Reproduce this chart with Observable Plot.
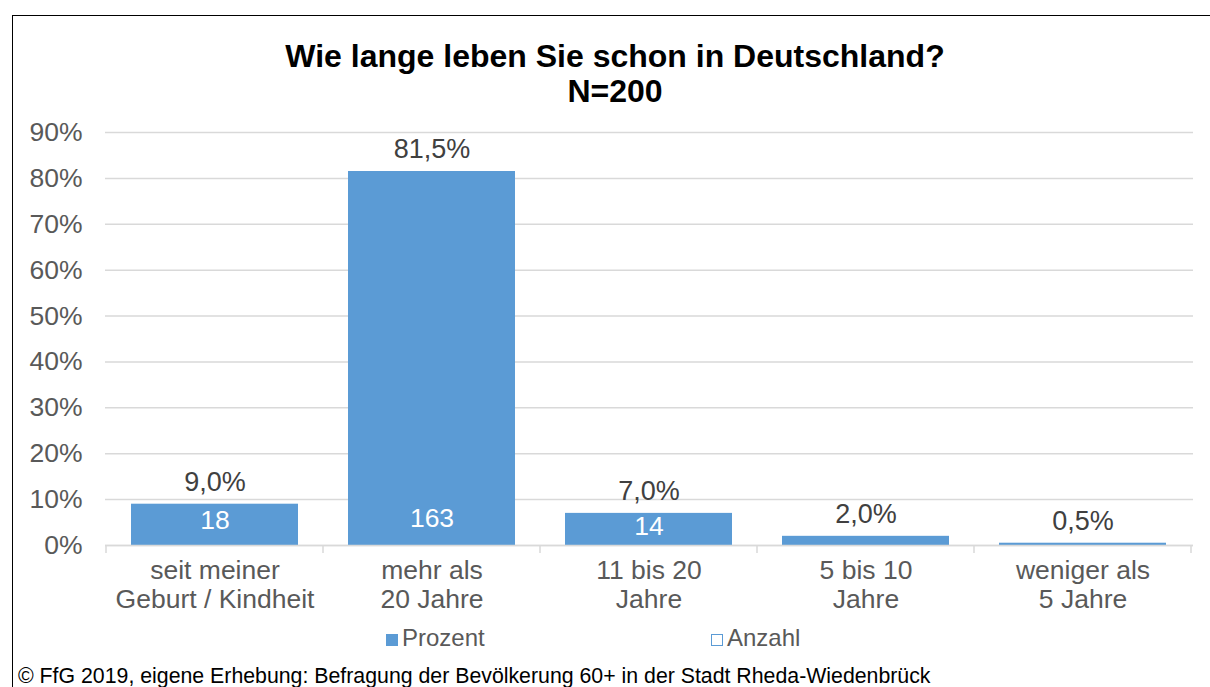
<!DOCTYPE html>
<html>
<head>
<meta charset="utf-8">
<script src="https://cdn.jsdelivr.net/npm/d3@7"></script>
<script src="https://cdn.jsdelivr.net/npm/@observablehq/plot@0.6"></script>
<style>
  html, body { margin: 0; padding: 0; background: #fff; }
  #wrap { position: relative; width: 1210px; height: 687px; overflow: hidden; font-family: "Liberation Sans", Arial, sans-serif; }
  #frame { position: absolute; left: 12px; top: 15px; width: 1300px; height: 800px; border-left: 1.5px solid #000; border-top: 1.5px solid #000; }
  #title { position: absolute; left: 0; width: 1230px; top: 39px; text-align: center; font-weight: bold; font-size: 32px; line-height: 35px; color: #000; }
  #chart { position: absolute; left: 0; top: 0; }
  .leg { position: absolute; top: 624px; font-size: 24px; color: #595959; line-height: 28px; white-space: nowrap; }
  .sw { display: inline-block; width: 12px; height: 12px; margin-right: 4px; vertical-align: 0px; box-sizing: border-box; }
  #caption { position: absolute; left: 18px; top: 664px; font-size: 21.3px; color: #000; white-space: nowrap; }
</style>
</head>
<body>
<div id="wrap">
  <div id="frame"></div>
  <div id="chart"></div>
  <div id="title">Wie lange leben Sie schon in Deutschland?<br>N=200</div>
  <div class="leg" style="left:386px"><span class="sw" style="background:#5b9bd5"></span>Prozent</div>
  <div class="leg" style="left:711px"><span class="sw" style="border:1.5px solid #5b9bd5;background:#fff"></span>Anzahl</div>
  <div id="caption">© FfG 2019, eigene Erhebung: Befragung der Bevölkerung 60+ in der Stadt Rheda-Wiedenbrück</div>
</div>
<script>
const categories = ["seit meiner\nGeburt / Kindheit", "mehr als\n20 Jahre", "11 bis 20\nJahre", "5 bis 10\nJahre", "weniger als\n5 Jahre"];
const prozent = [0.09, 0.815, 0.07, 0.02, 0.005];
const anzahl = [18, 163, 14, 4, 1];
const yTicks = [0, 0.1, 0.2, 0.3, 0.4, 0.5, 0.6, 0.7, 0.8, 0.9];

const data = categories.map((c, i) => ({cat: c, p: prozent[i], n: anzahl[i]}));
const pct = d3.format(".1f");
const fmtPct = v => pct(v * 100).replace(".", ",") + "%";

const blue = "#5b9bd5";
const grid = "#d9d9d9";

const plot = Plot.plot({
  width: 1210,
  height: 687,
  marginLeft: 105,
  marginRight: 17,
  marginTop: 132,
  marginBottom: 142,
  style: {fontFamily: "'Liberation Sans', Arial, sans-serif", fontSize: "26px", color: "#595959", background: "transparent", overflow: "visible"},
  x: {domain: categories, paddingInner: 0.23, paddingOuter: 0.115, label: null},
  y: {domain: [0, 0.9], label: null},
  marks: [
    Plot.gridY(yTicks, {stroke: grid, strokeOpacity: 1, strokeWidth: 1.5}),
    Plot.axisY(yTicks, {tickSize: 0, tickPadding: 23, tickFormat: d => Math.round(d * 100) + "%", fill: "#595959", fontSize: 26.5, label: null}),
    Plot.axisX({tickSize: 0, tickPadding: 14, fill: "#595959", fontSize: 26.5, lineHeight: 1.06, label: null}),
    Plot.barY(data, {x: "cat", y: "p", fill: blue}),
    Plot.ruleY([0], {stroke: grid, strokeWidth: 1.5}),
    Plot.text(data, {x: "cat", y: "p", text: d => fmtPct(d.p), dy: -22, fill: "#404040", fontSize: 27}),
    Plot.text(data.filter(d => d.p >= 0.05), {x: "cat", y: d => Math.min(d.p * 0.6, 0.059), text: d => String(d.n), fill: "#fff", fontSize: 26.5})
  ]
});
document.getElementById("chart").appendChild(plot);

// category boundary tick marks below the baseline
const xs = plot.scale("x"), ys = plot.scale("y");
const step = xs.step ?? (xs.bandwidth / (1 - 0.23));
const gap = step - xs.bandwidth;
const y0 = ys.apply(0);
const bounds = categories.map(c => xs.apply(c) - gap / 2).concat([xs.apply(categories[categories.length - 1]) + xs.bandwidth + gap / 2]);
d3.select(plot).append("g").selectAll("line").data(bounds).join("line")
  .attr("x1", d => d).attr("x2", d => d).attr("y1", y0).attr("y2", y0 + 8)
  .attr("stroke", grid).attr("stroke-width", 1.5);
</script>
</body>
</html>
